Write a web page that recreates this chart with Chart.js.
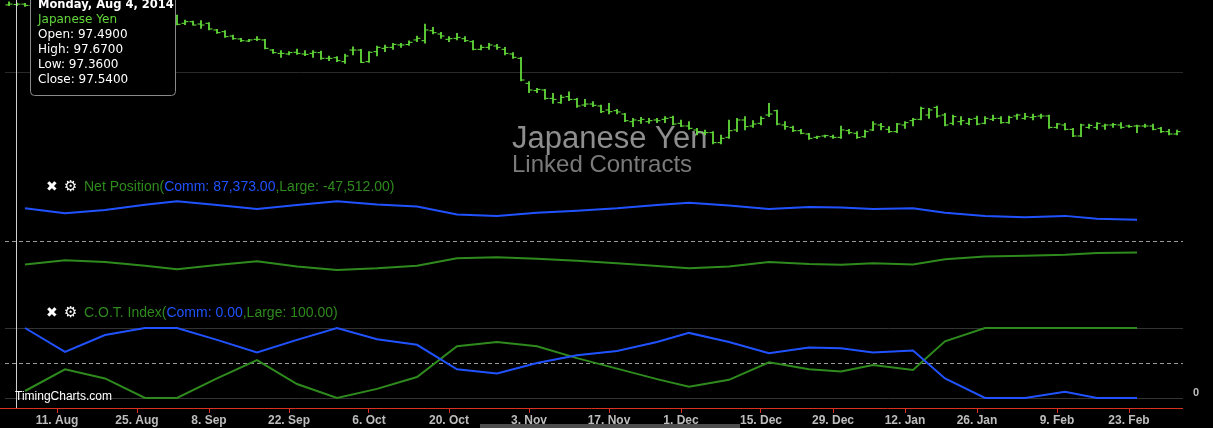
<!DOCTYPE html>
<html>
<head>
<meta charset="utf-8">
<script src="https://cdn.jsdelivr.net/npm/chart.js@4.4.1/dist/chart.umd.min.js"></script>
<style>
html, body { margin: 0; padding: 0; background: #000; }
#wrap { width: 1213px; height: 428px; }
</style>
</head>
<body>
<div id="wrap"><canvas id="chart" width="1213" height="428"></canvas></div>
<script>
// ordinal axis: one slot per trading day, holidays left out
var firstDay = '2014-08-01';
var lastDay = '2015-03-03';
var holidays = ['2014-09-01', '2014-11-27', '2014-12-25', '2015-01-01', '2015-01-19', '2015-02-16'];
var tickDates = ['2014-08-11', '2014-08-25', '2014-09-08', '2014-09-22', '2014-10-06', '2014-10-20', '2014-11-03',
  '2014-11-17', '2014-12-01', '2014-12-15', '2014-12-29', '2015-01-12', '2015-01-26', '2015-02-09', '2015-02-23'];

// daily bars, Japanese Yen (linked contracts)
var openP = [97.45, 97.49, 97.54, 97.40, 97.70, 97.80, 97.75, 97.60, 97.55, 97.60,
  97.45, 97.55, 97.30, 96.85, 96.65, 96.70, 96.35, 96.30, 96.20, 96.30,
  96.45, 96.26, 95.41, 95.59, 95.33, 95.41, 94.67, 94.48, 94.00, 93.67,
  93.44, 93.63, 93.56, 92.44, 92.07, 92.00, 92.19, 92.00, 92.07, 92.15,
  91.52, 91.59, 91.15, 92.44, 92.44, 91.15, 92.26, 92.63, 92.74, 93.00,
  93.05, 93.56, 93.48, 94.59, 94.22, 93.63, 93.74, 93.70, 93.37, 92.52,
  92.74, 92.89, 92.52, 92.00, 91.52, 88.74, 87.93, 88.00, 87.07, 86.59,
  87.26, 86.96, 86.33, 86.44, 86.22, 85.78, 85.70, 85.33, 84.48, 84.59,
  84.48, 84.67, 84.74, 84.96, 84.30, 84.00, 83.56, 83.26, 83.26, 82.15,
  82.74, 83.56, 84.67, 84.00, 84.30, 85.22, 85.70, 84.11, 83.85, 83.48,
  83.11, 82.74, 82.89, 82.81, 82.74, 83.48, 83.19, 82.81, 83.56, 84.11,
  83.63, 83.37, 84.11, 84.59, 84.74, 85.22, 86.07, 85.22, 84.30, 84.48,
  84.30, 84.85, 84.30, 84.74, 84.85, 84.37, 85.11, 84.85, 84.96, 85.11,
  85.11, 83.85, 84.11, 83.63, 82.89, 83.85, 83.85, 84.00, 84.11, 84.11,
  84.00, 84.00, 84.00, 84.00, 83.74, 83.37, 83.11];
var highP = [97.80, 97.67, 97.62, 97.75, 97.95, 97.95, 97.85, 97.70, 97.75, 97.65,
  97.70, 97.60, 97.35, 96.95, 96.80, 96.75, 96.50, 96.45, 96.40, 96.55,
  96.50, 96.33, 95.78, 95.67, 95.70, 95.48, 94.74, 94.59, 94.11, 93.74,
  93.63, 93.93, 93.63, 92.52, 92.37, 92.26, 92.56, 92.37, 92.37, 92.33,
  91.78, 91.70, 92.00, 92.81, 92.52, 92.26, 92.89, 93.00, 93.19, 93.19,
  93.45, 94.00, 95.33, 94.96, 94.41, 93.93, 94.30, 93.93, 93.48, 93.00,
  93.19, 93.07, 92.74, 92.15, 91.63, 88.93, 88.19, 88.07, 87.63, 87.44,
  87.81, 87.07, 86.96, 86.70, 86.33, 86.52, 85.85, 85.41, 84.85, 84.96,
  84.85, 84.85, 85.04, 85.11, 84.67, 84.48, 83.74, 83.56, 83.37, 83.00,
  84.67, 84.85, 85.04, 84.59, 85.04, 86.52, 85.78, 84.48, 84.00, 83.63,
  83.19, 82.89, 83.00, 83.00, 84.00, 83.63, 83.37, 83.56, 84.48, 84.30,
  83.93, 84.30, 84.48, 84.85, 86.10, 85.96, 86.22, 85.41, 85.22, 85.04,
  84.85, 85.11, 85.04, 85.22, 85.04, 85.11, 85.33, 85.41, 85.33, 85.33,
  85.22, 84.30, 84.30, 83.74, 84.22, 84.22, 84.37, 84.22, 84.30, 84.37,
  84.11, 84.11, 84.22, 84.22, 83.85, 83.63, 83.56];
var lowP = [97.38, 97.36, 97.30, 97.35, 97.55, 97.60, 97.50, 97.40, 97.45, 97.35,
  97.40, 97.20, 96.75, 96.55, 96.50, 96.25, 96.20, 96.15, 96.10, 96.20,
  96.25, 95.22, 95.26, 95.19, 94.85, 94.67, 94.30, 93.85, 93.63, 93.37,
  93.37, 93.48, 92.56, 92.07, 91.63, 91.89, 91.96, 91.82, 91.63, 91.41,
  91.26, 91.15, 90.96, 91.89, 91.04, 91.07, 91.78, 92.26, 92.52, 92.74,
  92.95, 93.37, 93.19, 94.22, 93.74, 93.37, 93.56, 93.37, 92.44, 92.44,
  92.52, 92.52, 91.89, 91.52, 89.00, 87.70, 87.70, 86.96, 86.52, 86.52,
  86.81, 86.07, 86.15, 86.15, 85.48, 85.33, 85.33, 84.48, 83.93, 84.30,
  84.30, 84.37, 84.37, 84.11, 83.93, 83.63, 83.00, 83.00, 82.00, 82.00,
  82.63, 83.37, 83.56, 83.85, 84.11, 85.04, 84.11, 83.63, 83.37, 83.11,
  82.52, 82.59, 82.74, 82.63, 82.63, 83.11, 82.63, 82.74, 83.48, 83.56,
  83.26, 83.26, 83.74, 84.00, 84.67, 84.85, 84.96, 84.00, 84.11, 84.11,
  84.11, 84.11, 84.22, 84.59, 84.30, 84.30, 84.74, 84.74, 84.67, 84.85,
  83.74, 83.74, 83.56, 82.81, 82.81, 83.74, 83.63, 83.63, 83.85, 83.74,
  83.85, 83.26, 83.85, 83.56, 83.26, 83.00, 83.00];
var closeP = [97.55, 97.54, 97.40, 97.70, 97.80, 97.75, 97.60, 97.55, 97.60, 97.45,
  97.55, 97.30, 96.85, 96.65, 96.70, 96.35, 96.30, 96.20, 96.30, 96.45,
  96.30, 95.30, 95.59, 95.22, 95.22, 94.78, 94.37, 93.93, 93.70, 93.48,
  93.56, 93.63, 92.63, 92.15, 92.07, 92.15, 92.07, 91.96, 92.19, 91.52,
  91.52, 91.26, 91.78, 92.44, 91.07, 92.19, 92.74, 92.74, 93.07, 93.00,
  93.30, 93.74, 94.67, 94.37, 94.00, 93.70, 93.85, 93.48, 92.52, 92.74,
  93.00, 92.74, 92.07, 91.63, 89.11, 88.00, 88.07, 87.07, 86.96, 87.19,
  86.96, 86.22, 86.44, 86.30, 85.59, 85.59, 85.56, 84.59, 84.67, 84.74,
  84.59, 84.59, 84.85, 84.22, 84.00, 83.74, 83.37, 83.26, 82.15, 82.63,
  83.48, 84.67, 83.93, 84.22, 84.85, 85.33, 84.22, 83.93, 83.48, 83.19,
  82.63, 82.81, 82.93, 82.74, 83.56, 83.26, 82.74, 83.37, 84.22, 83.93,
  83.37, 84.22, 84.37, 84.74, 85.96, 85.78, 85.11, 84.11, 85.04, 84.59,
  84.74, 84.22, 84.85, 84.85, 84.37, 84.96, 85.22, 85.04, 85.04, 85.11,
  83.85, 84.22, 83.63, 82.89, 84.11, 84.07, 84.30, 84.11, 84.15, 83.85,
  83.93, 84.00, 84.00, 83.63, 83.37, 83.11, 83.37];

// weekly COT report dates (Tuesdays)
var cotDates = ['2014-08-05', '2014-08-12', '2014-08-19', '2014-08-26', '2014-09-02', '2014-09-09', '2014-09-16',
  '2014-09-23', '2014-09-30', '2014-10-07', '2014-10-14', '2014-10-21', '2014-10-28', '2014-11-04', '2014-11-11',
  '2014-11-18', '2014-11-25', '2014-12-02', '2014-12-09', '2014-12-16', '2014-12-23', '2014-12-30', '2015-01-06',
  '2015-01-13', '2015-01-20', '2015-01-27', '2015-02-03', '2015-02-10', '2015-02-17', '2015-02-24'];
var commNet = [134000, 114000, 127000, 149000, 163000, 148000, 131000, 148000, 163000, 150000,
  141000, 109000, 103000, 116000, 124000, 134000, 148000, 157000, 146000, 131000,
  139000, 137000, 131000, 134000, 116000, 103000, 97000, 103000, 91000, 87373];
var largeNet = [-96000, -79000, -86000, -101000, -116000, -98000, -83000, -105000, -119000, -112000,
  -101000, -71000, -67000, -73000, -81000, -91000, -103000, -112000, -105000, -86000,
  -94000, -97000, -91000, -96000, -75000, -64000, -60000, -56000, -49000, -47512];
var commCot = [100, 66, 90, 100, 100, 83, 65, 83, 100, 84, 76, 41, 35, 50, 61,
  67, 80, 93, 80, 64, 72, 71, 65, 68, 28, 0, 0, 9, 0, 0];
var largeCot = [10, 41, 28, 0, 0, 28, 54, 20, 0, 13, 30, 74, 80, 74, 57,
  42, 27, 16, 26, 51, 41, 38, 47, 40, 81, 100, 100, 100, 100, 100];

var hoverDay = '2014-08-04';

var monthNames = ['Jan', 'Feb', 'Mar', 'Apr', 'May', 'Jun', 'Jul', 'Aug', 'Sep', 'Oct', 'Nov', 'Dec'];
var dayNames = ['Sunday', 'Monday', 'Tuesday', 'Wednesday', 'Thursday', 'Friday', 'Saturday'];

function parseDay(s) {
  var p = s.split('-');
  return new Date(Date.UTC(+p[0], +p[1] - 1, +p[2]));
}

var tradingDays = [];
for (var t = parseDay(firstDay); t <= parseDay(lastDay); t = new Date(t.getTime() + 86400000)) {
  var iso = t.toISOString().slice(0, 10);
  var wd = t.getUTCDay();
  if (wd !== 0 && wd !== 6 && holidays.indexOf(iso) < 0) tradingDays.push(iso);
}

function fmtNum(n) {
  var s = Math.abs(n).toFixed(2).split('.');
  s[0] = s[0].replace(/\B(?=(\d{3})+(?!\d))/g, ',');
  return (n < 0 ? '-' : '') + s[0] + '.' + s[1];
}

var GREEN_BAR = '#6aec3e';
var BLUE = '#2152ff';
var GREEN = '#2f8a1e';

var hlData = tradingDays.map(function (d, i) { return { x: i, y: [lowP[i], highP[i]] }; });
var openData = tradingDays.map(function (d, i) { return { x: i - 0.25, y: openP[i] }; });
var closeData = tradingDays.map(function (d, i) { return { x: i + 0.25, y: closeP[i] }; });
function cotSeries(vals) {
  return cotDates.map(function (d, i) { return { x: tradingDays.indexOf(d), y: vals[i] }; });
}

var hLines = [
  { axis: 'yPrice', value: 90, color: '#2a2a2a', dash: [] },
  { axis: 'yNet', value: 0, color: '#9a9a9a', dash: [4, 3] },
  { axis: 'yCot', value: 100, color: '#333333', dash: [] },
  { axis: 'yCot', value: 50, color: '#9a9a9a', dash: [4, 3] },
  { axis: 'yCot', value: 0, color: '#333333', dash: [] }
];

function noPad(scale) {
  scale.paddingTop = 0;
  scale.paddingBottom = 0;
  scale.paddingLeft = 0;
  scale.paddingRight = 0;
}

function drawLegend(ctx, y, parts) {
  ctx.textBaseline = 'middle';
  ctx.textAlign = 'left';
  ctx.fillStyle = '#ffffff';
  ctx.font = 'bold 14px "DejaVu Sans"';
  ctx.fillText('\u2716', 46, y);
  ctx.font = 'bold 15px "DejaVu Sans"';
  ctx.fillText('\u2699', 64, y);
  ctx.font = '14px "Liberation Sans"';
  var x = 84;
  parts.forEach(function (p) {
    ctx.fillStyle = p[1];
    ctx.fillText(p[0], x, y);
    x += ctx.measureText(p[0]).width;
  });
}

var overlay = {
  id: 'overlay',
  beforeDraw: function (chart) {
    var ctx = chart.ctx;
    ctx.save();
    ctx.fillStyle = '#000';
    ctx.fillRect(0, 0, chart.width, chart.height);
    ctx.restore();
  },
  beforeDatasetsDraw: function (chart) {
    var ctx = chart.ctx, area = chart.chartArea;
    ctx.save();
    // watermark
    ctx.textBaseline = 'alphabetic';
    ctx.textAlign = 'left';
    ctx.fillStyle = '#8e8e8e';
    ctx.font = '31px "Liberation Sans"';
    ctx.fillText('Japanese Yen', 512, 148);
    ctx.fillStyle = '#7a7a7a';
    ctx.font = '24px "Liberation Sans"';
    ctx.fillText('Linked Contracts', 512, 172);
    // pane lines
    ctx.lineWidth = 1;
    hLines.forEach(function (l) {
      var y = Math.round(chart.scales[l.axis].getPixelForValue(l.value)) + 0.5;
      ctx.strokeStyle = l.color;
      ctx.setLineDash(l.dash);
      ctx.beginPath();
      ctx.moveTo(area.left, y);
      ctx.lineTo(area.right, y);
      ctx.stroke();
    });
    ctx.restore();
  },
  afterDraw: function (chart) {
    var ctx = chart.ctx, area = chart.chartArea, xs = chart.scales.x;
    var last = cotDates.length - 1;
    ctx.save();
    // red x axis line
    ctx.strokeStyle = '#d8321e';
    ctx.lineWidth = 1;
    ctx.beginPath();
    ctx.moveTo(0, area.bottom + 0.5);
    ctx.lineTo(area.right, area.bottom + 0.5);
    ctx.stroke();

    drawLegend(ctx, 187, [['Net Position(', GREEN], ['Comm: ' + fmtNum(commNet[last]), BLUE],
      [',Large: ' + fmtNum(largeNet[last]) + ')', GREEN]]);
    drawLegend(ctx, 313, [['C.O.T. Index(', GREEN], ['Comm: ' + fmtNum(commCot[last]), BLUE],
      [',Large: ' + fmtNum(largeCot[last]) + ')', GREEN]]);

    // crosshair on hovered day
    var hi = tradingDays.indexOf(hoverDay);
    var cx = Math.round(xs.getPixelForValue(hi)) - 0.5;
    ctx.strokeStyle = '#cfcfcf';
    ctx.beginPath();
    ctx.moveTo(cx, 0);
    ctx.lineTo(cx, area.bottom);
    ctx.stroke();

    // tooltip box
    ctx.fillStyle = '#000000';
    ctx.strokeStyle = '#8a8a8a';
    ctx.beginPath();
    ctx.roundRect(30.5, -10.5, 145, 106, 4);
    ctx.fill();
    ctx.stroke();
    var d = parseDay(hoverDay);
    ctx.textBaseline = 'middle';
    ctx.textAlign = 'left';
    ctx.fillStyle = '#ffffff';
    ctx.font = 'bold 11.5px "DejaVu Sans"';
    ctx.fillText(dayNames[d.getUTCDay()] + ', ' + monthNames[d.getUTCMonth()] + ' ' + d.getUTCDate() + ', ' + d.getUTCFullYear(), 38, 5);
    ctx.font = '12px "DejaVu Sans"';
    ctx.fillStyle = '#62d63a';
    ctx.fillText('Japanese Yen', 38, 20);
    ctx.fillStyle = '#ffffff';
    ctx.fillText('Open: ' + openP[hi].toFixed(4), 38, 35);
    ctx.fillText('High: ' + highP[hi].toFixed(4), 38, 50);
    ctx.fillText('Low: ' + lowP[hi].toFixed(4), 38, 65);
    ctx.fillText('Close: ' + closeP[hi].toFixed(4), 38, 80);

    // credit + scrollbar stub
    ctx.font = '12px "Liberation Sans"';
    ctx.fillStyle = '#ffffff';
    ctx.fillText('TimingCharts.com', 15, 397);
    ctx.fillStyle = '#4d4d4d';
    ctx.fillRect(480, 424, 260, 4);
    ctx.restore();
  }
};

var ctxEl = document.getElementById('chart');
new Chart(ctxEl, {
  data: {
    datasets: [
      { type: 'line', label: 'Comm COT', data: cotSeries(commCot), yAxisID: 'yCot', borderColor: BLUE, borderWidth: 2, pointRadius: 0, tension: 0 },
      { type: 'line', label: 'Large COT', data: cotSeries(largeCot), yAxisID: 'yCot', borderColor: GREEN, borderWidth: 2, pointRadius: 0, tension: 0 },
      { type: 'line', label: 'Comm Net', data: cotSeries(commNet), yAxisID: 'yNet', borderColor: BLUE, borderWidth: 2, pointRadius: 0, tension: 0 },
      { type: 'line', label: 'Large Net', data: cotSeries(largeNet), yAxisID: 'yNet', borderColor: GREEN, borderWidth: 2, pointRadius: 0, tension: 0 },
      { type: 'scatter', label: 'Open', data: openData, yAxisID: 'yPrice', pointStyle: 'line', pointRadius: 1.5, borderWidth: 1, borderColor: GREEN_BAR },
      { type: 'scatter', label: 'Close', data: closeData, yAxisID: 'yPrice', pointStyle: 'line', pointRadius: 1.5, borderWidth: 1, borderColor: GREEN_BAR },
      { type: 'bar', label: 'High-Low', data: hlData, yAxisID: 'yPrice', backgroundColor: GREEN_BAR, barThickness: 1, grouped: false, borderWidth: 0 }
    ]
  },
  options: {
    responsive: false,
    animation: false,
    events: [],
    layout: { autoPadding: false, padding: { left: 5, right: 0, top: 0, bottom: 0 } },
    plugins: { legend: { display: false }, tooltip: { enabled: false } },
    scales: {
      x: {
        type: 'linear',
        offset: false,
        min: -0.5,
        max: 146.75,
        afterBuildTicks: function (scale) {
          scale.ticks = tickDates.map(function (d) { return { value: tradingDays.indexOf(d) }; });
        },
        afterFit: function (scale) { scale.height = 20; noPad(scale); },
        ticks: {
          autoSkip: false,
          maxRotation: 0,
          padding: 0,
          color: '#bdbdbd',
          font: { family: 'Liberation Sans', size: 12, weight: 'bold' },
          callback: function (v) {
            var d = parseDay(tradingDays[v]);
            return d.getUTCDate() + '. ' + monthNames[d.getUTCMonth()];
          }
        },
        grid: { offset: false, drawOnChartArea: false, drawTicks: true, tickLength: 5, tickColor: '#d8321e', color: '#d8321e' },
        border: { display: false }
      },
      yPrice: {
        position: 'right', stack: 'panes', stackWeight: 170,
        min: 98 - 170 / 9, max: 98,
        afterFit: function (scale) { scale.width = 30; noPad(scale); },
        ticks: { display: false },
        grid: { display: false, drawTicks: false },
        border: { display: false }
      },
      yNet: {
        position: 'right', stack: 'panes', stackWeight: 130,
        min: -59 * 4100, max: 71 * 4100,
        afterFit: function (scale) { scale.width = 30; noPad(scale); },
        ticks: { display: false },
        grid: { display: false, drawTicks: false },
        border: { display: false }
      },
      yCot: {
        position: 'right', stack: 'panes', stackWeight: 108,
        min: -10 / 0.7, max: 140,
        afterFit: function (scale) { scale.width = 30; noPad(scale); },
        afterBuildTicks: function (scale) { scale.ticks = [{ value: 0 }]; },
        ticks: {
          padding: 10,
          labelOffset: -5,
          color: '#bdbdbd',
          font: { family: 'Liberation Sans', size: 11, weight: 'bold' },
          callback: function () { return '0'; }
        },
        grid: { display: false, drawTicks: false },
        border: { display: false }
      }
    }
  },
  plugins: [overlay]
});
</script>
</body>
</html>
